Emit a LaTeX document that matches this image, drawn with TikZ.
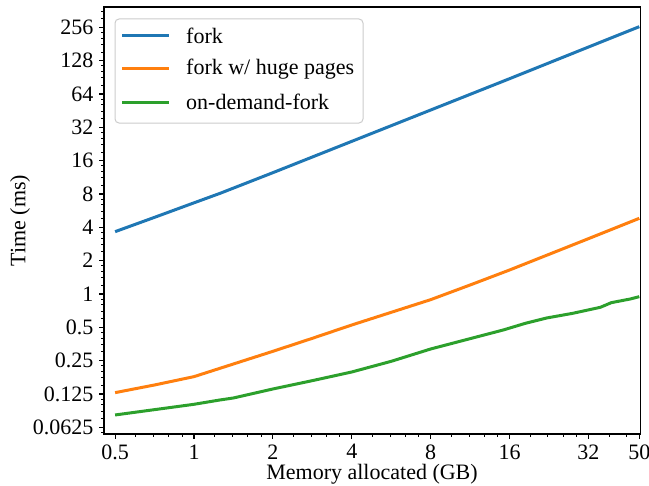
\documentclass[tikz,border=0pt]{standalone}
\usepackage{fontspec}
\setmainfont{Liberation Serif}
\definecolor{forkblue}{HTML}{1F77B4}
\definecolor{hugeorange}{HTML}{FF7F0E}
\definecolor{demandgreen}{HTML}{2CA02C}

\begin{document}
\begin{tikzpicture}[x=78.9pt, y=33.33pt, font=\fontsize{22}{26}\selectfont,
    curve/.style={line width=3pt, line join=round},
    majortick/.style={line width=1.1pt},
    minortick/.style={line width=0.8pt}]
    \useasboundingbox (-2.459,-5.761) rectangle (5.767,8.821);

    % curves (log2 of memory, log2 of time)
    \draw[curve, forkblue] plot coordinates {(-1,1.87) (-0.5,2.30) (0,2.735) (0.33,3.02) (1,3.64) (2,4.58) (3,5.52) (4,6.46) (5,7.41) (5.644,8.02)};
    \draw[curve, hugeorange] plot coordinates {(-1,-2.96) (-0.5,-2.73) (0,-2.48) (0.5,-2.10) (1,-1.72) (1.5,-1.33) (2,-0.93) (2.5,-0.55) (3,-0.17) (3.5,0.27) (4,0.72) (4.5,1.19) (5,1.66) (5.644,2.27)};
    \draw[curve, demandgreen] plot coordinates {(-1,-3.63) (-0.5,-3.47) (0,-3.31) (0.33,-3.18) (0.5,-3.12) (1,-2.85) (1.5,-2.60) (2,-2.34) (2.5,-2.02) (3,-1.65) (3.5,-1.34) (3.92,-1.08) (4.2,-0.88) (4.47,-0.72) (4.8,-0.58) (5.15,-0.40) (5.29,-0.26) (5.53,-0.15) (5.644,-0.08)};

    % legend
    \draw[black!20, fill=white, fill opacity=0.8, rounded corners=4pt, line width=1pt] (-1.001,5.130) rectangle (2.142,8.251);
    \draw[curve, forkblue] (-0.9125,7.741) -- (-0.3169,7.741);
    \node[anchor=west, inner sep=0pt] (legfork) at (-0.1014,7.741) {fork};
    \draw[curve, hugeorange] (-0.9125,6.751) -- (-0.3169,6.751);
    \node[anchor=west, inner sep=0pt] (leghuge) at (-0.1014,6.751) {fork w/ huge pages};
    \draw[curve, demandgreen] (-0.9125,5.760) -- (-0.3169,5.760);
    \node[anchor=west, inner sep=0pt] (legdemand) at (-0.1014,5.760) {on-demand-fork};

    % axes
    \draw[majortick] (-1.141,-4.2) rectangle (5.654,8.611);

    \foreach \e/\lab in {-4/0.0625, -3/0.125, -2/0.25, -1/0.5, 0/1, 1/2, 2/4, 3/8, 4/16, 5/32, 6/64, 7/128, 8/256}
        \draw[majortick] (-1.141,\e) -- ++(-5pt,0) node[left=5pt, inner sep=0pt] (ylab\e) {\lab};
    \foreach \e/\lab in {-1/0.5, 0/1, 1/2, 2/4, 3/8, 4/16, 5/32}
        \draw[majortick] (\e,-4.2) -- ++(0,-5pt) node[below=5pt, inner sep=0pt] (xlab\e) {\lab};
    \draw[majortick] (5.644,-4.2) -- ++(0,-5pt) node[below=5pt, inner sep=0pt] (xlabend) {50};

    \foreach \e in {-5,...,8}
        \foreach \s in {1.2,1.4,1.6,1.8} {
            \pgfmathsetmacro\p{\e+ln(\s)/ln(2)}
            \ifdim\p pt>-4.2pt \ifdim\p pt<8.611pt
                \draw[minortick] (-1.141,\p) -- ++(-3pt,0);
            \fi\fi
        }
    \foreach \e in {-2,...,5}
        \foreach \s in {1.2,1.4,1.6,1.8} {
            \pgfmathsetmacro\p{\e+ln(\s)/ln(2)}
            \ifdim\p pt>-1.141pt \ifdim\p pt<5.654pt
                \draw[minortick] (\p,-4.2) -- ++(0,-3pt);
            \fi\fi
        }

    \node[rotate=90, inner sep=0pt] (ylabel) at (-2.205,2.2055) {Time (ms)};
    \node[inner sep=0pt] (xlabel) at (2.2565,-5.42) {Memory allocated (GB)};

\end{tikzpicture}
\end{document}
